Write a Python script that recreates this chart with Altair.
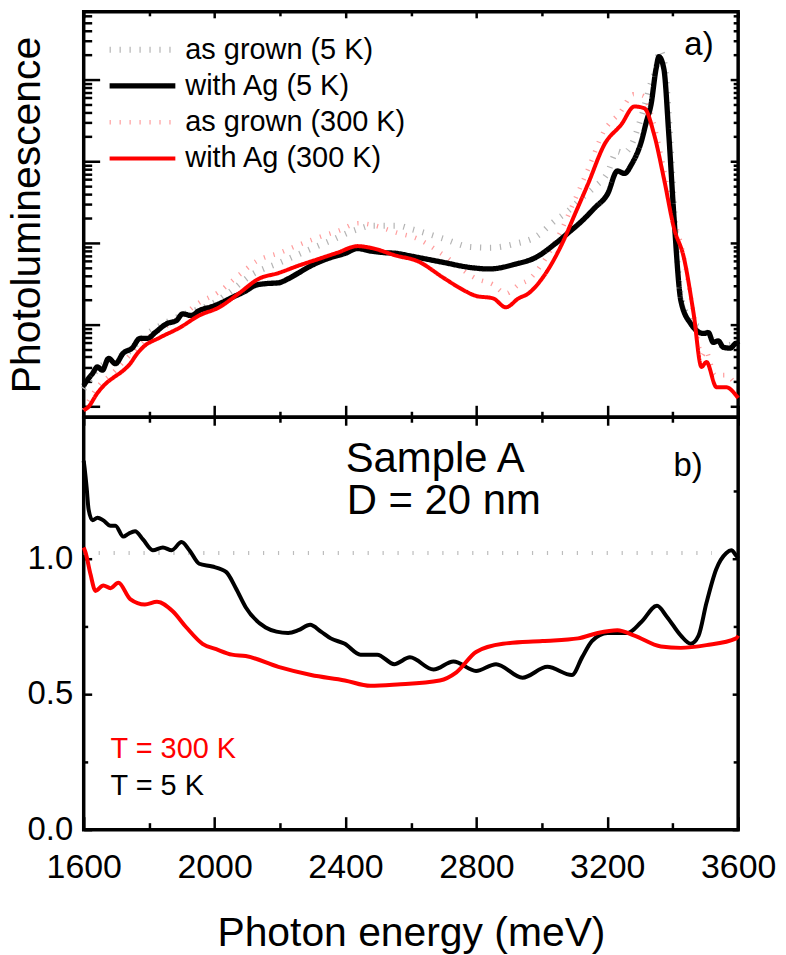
import altair as alt
import pandas as pd

FONT = "Liberation Sans"

# ---------------- panel a) : photoluminescence, read as log10(PL) (arb. units)
e_ag5 = [1600,1606,1627,1642,1657,1676,1697,1721,1748,1772,1796,1818,1854,1884,1902,1929,1953,1993,2023,2053,
         2095,2125,2156,2195,2225,2256,2295,2355,2398,2437,2476,2518,2558,2597,2700,2778,2839,2920,2981,3041,
         3080,3123,3162,3201,3231,3253,3274,3304,3320,3334,3349,3358,3373,3388,3404,3425,3455,3494,3509,3524,
         3539,3555,3576,3594,3600]
lg_ag5 = [0.25,0.29,0.40,0.48,0.44,0.585,0.52,0.65,0.71,0.83,0.83,0.90,1.01,1.05,1.13,1.11,1.17,1.22,1.27,1.33,
          1.41,1.48,1.50,1.51,1.56,1.63,1.72,1.82,1.87,1.93,1.90,1.88,1.87,1.84,1.76,1.70,1.68,1.74,1.82,1.99,
          2.12,2.27,2.43,2.60,2.88,2.85,2.96,3.24,3.49,3.70,4.13,4.28,4.13,3.33,2.31,1.29,1.01,0.89,0.90,0.78,
          0.80,0.72,0.71,0.77,0.75]

e_ag300 = [1600,1612,1642,1666,1691,1716,1742,1761,1781,1833,1893,1953,2014,2074,2135,2195,2256,2316,2376,2437,
           2476,2558,2618,2700,2748,2799,2851,2890,2929,2959,3002,3062,3101,3141,3192,3243,3283,3313,3343,3373,
           3404,3434,3464,3488,3503,3534,3564,3594,3600]
lg_ag300 = [-0.05,-0.02,0.16,0.27,0.35,0.42,0.52,0.63,0.72,0.84,0.96,1.11,1.21,1.38,1.56,1.63,1.72,1.80,1.88,1.96,
            1.94,1.84,1.78,1.57,1.45,1.35,1.32,1.21,1.32,1.38,1.57,1.99,2.35,2.72,3.21,3.45,3.67,3.65,3.33,2.79,
            2.18,1.82,1.13,0.48,0.54,0.23,0.23,0.13,0.10]

e_gr5 = [1600,1640,1680,1740,1780,1850,1910,2000,2050,2110,2200,2280,2350,2440,2480,2560,2600,2700,2780,2840,
         2920,2980,3040,3080,3120,3160,3200,3230,3250,3275,3300,3335,3350,3360,3375,3390,3405,3425,3455,3495,
         3525,3555,3590]
lg_gr5 = [0.21,0.44,0.56,0.67,0.84,1.02,1.13,1.27,1.41,1.60,1.76,1.90,2.02,2.17,2.21,2.21,2.17,2.05,1.95,1.94,
          1.99,2.07,2.27,2.39,2.54,2.68,2.85,3.12,3.10,3.21,3.49,3.98,4.15,4.36,4.20,3.43,2.39,1.35,1.05,0.93,
          0.80,0.74,0.77]

e_gr300 = [1600,1640,1690,1740,1790,1830,1890,1950,2010,2070,2130,2200,2260,2320,2380,2440,2480,2560,2620,2700,
           2800,2850,2890,2930,2960,3000,3060,3100,3140,3190,3240,3280,3310,3340,3370,3400,3430,3460,3490,3500,
           3530,3560,3590]
lg_gr300 = [-0.05,0.22,0.41,0.62,0.82,0.93,1.07,1.26,1.39,1.59,1.78,1.88,1.98,2.07,2.15,2.24,2.22,2.12,2.05,1.85,
            1.56,1.49,1.38,1.49,1.55,1.74,2.16,2.52,2.89,3.37,3.60,3.82,3.80,3.49,2.96,2.35,1.90,1.23,0.62,0.68,
            0.38,0.38,0.28]

series_names = ["as grown (5 K)", "with Ag (5 K)", "as grown (300 K)", "with Ag (300 K)"]
series_colors = ["#b4b4b4", "#000000", "#ff9c9c", "#ff0000"]
series_dash = [[1.2, 8.8], [1, 0], [1.2, 8.8], [1, 0]]
series_width = [6, 4, 6, 4]

# ---------------- panel b) : ratio with Ag / as grown
e_r5 = [1600,1603,1609,1615,1627,1642,1660,1682,1697,1721,1736,1757,1781,1811,1842,1869,1899,1923,1953,1993,
        2035,2065,2095,2156,2189,2225,2256,2292,2325,2355,2398,2446,2497,2549,2597,2669,2730,2799,2860,2941,
        3017,3092,3123,3153,3201,3262,3304,3352,3382,3425,3455,3479,3503,3533,3564,3579,3594,3600]
r5 = [1.36,1.33,1.26,1.18,1.14,1.15,1.14,1.12,1.12,1.08,1.09,1.10,1.07,1.03,1.04,1.03,1.06,1.03,0.98,0.97,
      0.95,0.89,0.82,0.745,0.73,0.725,0.735,0.755,0.73,0.705,0.685,0.645,0.645,0.61,0.635,0.59,0.62,0.585,0.61,0.56,
      0.60,0.57,0.635,0.695,0.725,0.725,0.765,0.825,0.785,0.715,0.685,0.715,0.835,0.96,1.02,1.03,1.01,1.00]

e_r300 = [1600,1606,1621,1636,1660,1682,1706,1742,1787,1824,1872,1914,1963,2005,2053,2095,2195,2295,2398,2476,
          2558,2688,2739,2799,2881,3002,3111,3171,3231,3283,3364,3425,3503,3594,3600]
r300 = [1.04,1.02,0.94,0.88,0.90,0.89,0.91,0.85,0.83,0.84,0.805,0.745,0.685,0.665,0.645,0.64,0.60,0.57,0.55,0.53,
        0.535,0.55,0.58,0.655,0.685,0.695,0.705,0.725,0.735,0.715,0.675,0.67,0.68,0.705,0.715]

e_unity = [1600, 3520]
r_unity = [1.02, 1.02]

x_major = [1600, 2000, 2400, 2800, 3200, 3600]
x_minor = [1800, 2200, 2600, 3000, 3400]
pl_major = [1, 10, 100, 1000, 10000]
pl_minor = [k * 10 ** n for n in range(0, 5) for k in range(2, 10) if k * 10 ** n < 67000]
r_major = [0.0, 0.5, 1.0]
r_minor = [0.25, 0.75, 1.25]

# ---------------- tables
rows = []
for name, es, ls in [(series_names[0], e_gr5, lg_gr5), (series_names[2], e_gr300, lg_gr300),
                     (series_names[1], e_ag5, lg_ag5), (series_names[3], e_ag300, lg_ag300)]:
    for e, l in zip(es, ls):
        rows.append({"E": e, "PL": 10 ** l, "series": name})
top_df = pd.DataFrame(rows)

r5_df = pd.DataFrame({"E": e_r5, "R": r5})
r300_df = pd.DataFrame({"E": e_r300, "R": r300})
unity_df = pd.DataFrame({"E": e_unity, "R": r_unity})

W = 657
H_TOP = 407
H_BOT = 414

x_scale = alt.Scale(domain=[1600, 3600], nice=False, zero=False)
pl_scale = alt.Scale(type="log", domain=[0.73, 67600], nice=False)
r_scale = alt.Scale(domain=[0, 1.52], nice=False, zero=False)


def ax(orient, values, size, width=2.5, **kw):
    d = dict(orient=orient, values=values, tickSize=size, offset=-size, domain=False, grid=False,
             ticks=True, tickColor="black", tickWidth=width, labels=False, title=None, labelFlush=False)
    d.update(kw)
    return alt.Axis(**d)


def axis_layer(df, yf, yscale, xaxis, yaxis):
    return alt.Chart(df).mark_point(opacity=0, size=1).encode(
        x=alt.X("E:Q", scale=x_scale, axis=xaxis),
        y=alt.Y(yf, scale=yscale, axis=yaxis),
    )


def label(txt, x, y, size, color="black"):
    return alt.Chart(pd.DataFrame({"t": [txt]})).mark_text(
        align="left", baseline="alphabetic", font=FONT, fontSize=size, color=color
    ).encode(text="t:N", x=alt.value(x), y=alt.value(y))


legend = alt.Legend(title=None, orient="none", legendX=23, legendY=23, labelFont=FONT, labelFontSize=29,
                    labelColor="black", symbolType="stroke", symbolSize=4356, rowPadding=6.4, labelOffset=7,
                    padding=0, labelLimit=500, clipHeight=30)

top_lines = alt.Chart(top_df).mark_line(interpolate="monotone").encode(
    x=alt.X("E:Q", scale=x_scale, axis=ax("bottom", x_major, 12)),
    y=alt.Y("PL:Q", scale=pl_scale,
            axis=ax("left", pl_major, 16, title="Photoluminescence", titleFontSize=41, titlePadding=34,
                    titleFont=FONT, titleFontWeight="normal", titleColor="black")),
    color=alt.Color("series:N", scale=alt.Scale(domain=series_names, range=series_colors), legend=legend),
    strokeDash=alt.StrokeDash("series:N", scale=alt.Scale(domain=series_names, range=series_dash), legend=legend),
    strokeWidth=alt.StrokeWidth("series:N", scale=alt.Scale(domain=series_names, range=series_width), legend=legend),
    detail="series:N",
)

top = alt.layer(
    axis_layer(top_df, "PL:Q", pl_scale, ax("bottom", x_minor, 6), ax("left", pl_minor, 8)),
    axis_layer(top_df, "PL:Q", pl_scale, ax("top", x_major, 6), ax("right", pl_major, 8)),
    axis_layer(top_df, "PL:Q", pl_scale, ax("top", x_minor, 4), ax("right", pl_minor, 5)),
    top_lines,
    label("a)", 603, 43, 33),
).resolve_axis(x="independent", y="independent").properties(width=W, height=H_TOP)

line5 = alt.Chart(r5_df).mark_line(interpolate="monotone", strokeWidth=4, color="#000000").encode(
    x=alt.X("E:Q", scale=x_scale,
            axis=ax("bottom", x_major, 13, labels=True, labelFontSize=34, labelPadding=21, labelFont=FONT,
                    labelColor="black", format="d", title="Photon energy (meV)", titleFontSize=41,
                    titlePadding=29, titleFont=FONT, titleFontWeight="normal", titleColor="black")),
    y=alt.Y("R:Q", scale=r_scale,
            axis=ax("left", r_major, 8, labels=True, labelFontSize=33, labelPadding=11, labelFont=FONT,
                    labelColor="black", format=".1f")),
)

line300 = alt.Chart(r300_df).mark_line(interpolate="monotone", strokeWidth=4, color="#ff0000").encode(
    x=alt.X("E:Q", scale=x_scale, axis=ax("top", x_major, 8)),
    y=alt.Y("R:Q", scale=r_scale, axis=ax("right", r_major, 6)),
)

unity = alt.Chart(unity_df).mark_line(color="#bdbdbd", strokeWidth=4, strokeDash=[1.2, 13.8]).encode(
    x=alt.X("E:Q", scale=x_scale, axis=ax("bottom", x_minor, 7)),
    y=alt.Y("R:Q", scale=r_scale, axis=ax("left", r_minor, 4)),
)

bottom = alt.layer(
    unity,
    axis_layer(r5_df, "R:Q", r_scale, ax("top", x_minor, 5), ax("right", r_minor, 5)),
    line5,
    line300,
    label("Sample A", 263, 55, 42),
    label("D = 20 nm", 264, 97, 42),
    label("b)", 592, 59, 33),
    label("T = 300 K", 27, 342, 29, "#ff0000"),
    label("T = 5 K", 27, 379, 29),
).resolve_axis(x="independent", y="independent").properties(width=W, height=H_BOT)

chart = alt.vconcat(top, bottom, spacing=0, bounds="flush").properties(
    padding={"left": -3, "top": -1, "right": 0, "bottom": 0}
).configure(font=FONT).configure_view(stroke="black", strokeWidth=3.5)

chart.save("out.html", embed_options={"renderer": "svg", "actions": False})
